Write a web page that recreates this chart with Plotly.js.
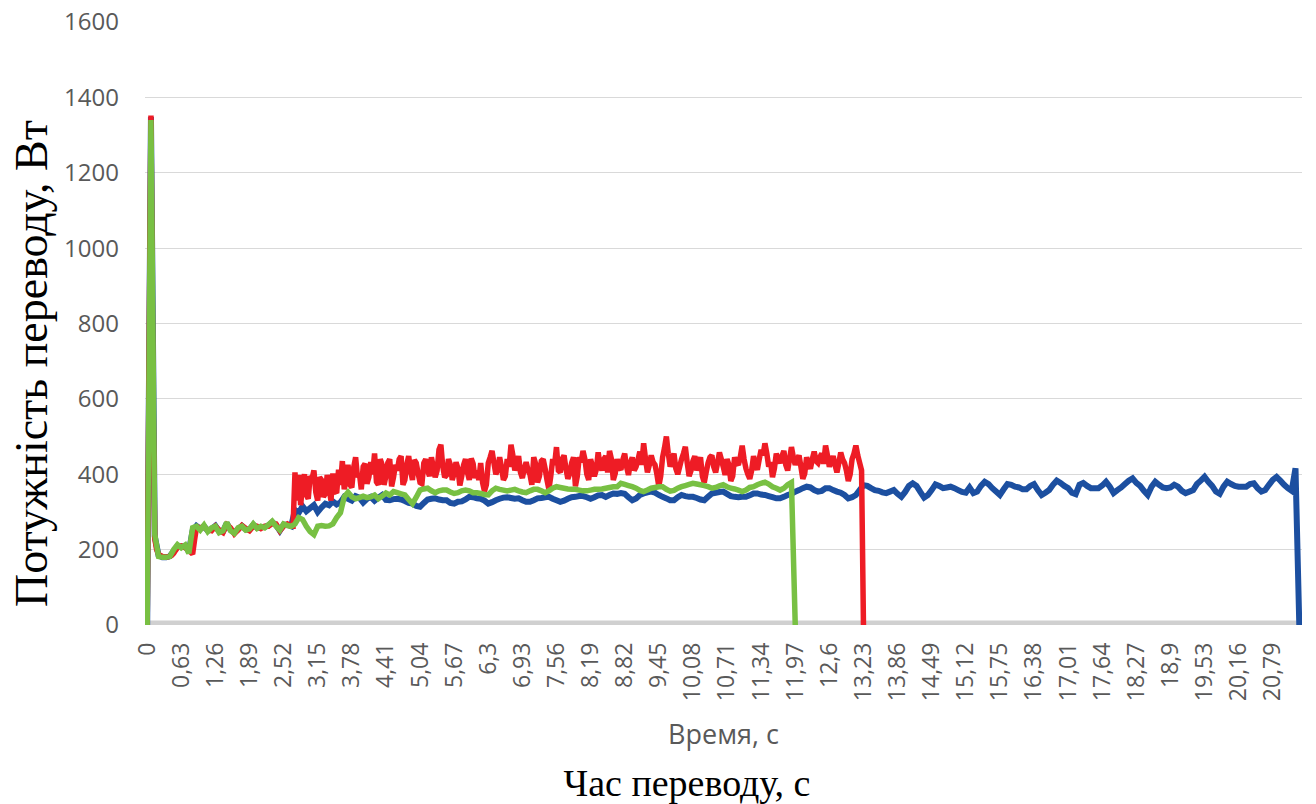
<!DOCTYPE html>
<html>
<head>
<meta charset="utf-8">
<script src="https://cdn.plot.ly/plotly-3.0.1.min.js"></script>
<style>html,body{margin:0;padding:0;background:#fff;}#chart{width:1316px;height:804px;}</style>
</head>
<body>
<div id="chart"></div>
<script>
// sampling steps of the time axis, s
const timeStep = 0.07;
const redTimeStep = 0.035;

// tick labels of the time axis
const tickVals = [0,0.63,1.26,1.89,2.52,3.15,3.78,4.41,5.04,5.67,6.3,6.93,7.56,8.19,8.82,9.45,10.08,10.71,11.34,11.97,12.6,13.23,13.86,14.49,15.12,15.75,16.38,17.01,17.64,18.27,18.9,19.53,20.16,20.79];
const tickText = ["0","0,63","1,26","1,89","2,52","3,15","3,78","4,41","5,04","5,67","6,3","6,93","7,56","8,19","8,82","9,45","10,08","10,71","11,34","11,97","12,6","13,23","13,86","14,49","15,12","15,75","16,38","17,01","17,64","18,27","18,9","19,53","20,16","20,79"];

// power, W (blue series), step timeStep
const bluePower = [
0,1348,235,185,180,180,183,195,210,208,210,195,250,263,255,262,250,255,263,248,248,270,252,245,255,263,254,253,266,258,260,260,264,273,265,250,266,266,262,
305,298,315,302,310,318,300,312,322,318,328,320,325,340,335,330,342,338,325,335,340,330,338,345,332,
331,334,335,333,329,324,322,316,314,324,333,335,336,333,331,331,324,322,327,328,333,340,339,336,335,330,322,326,331,335,338,339,337,335,336,331,327,327,331,336,337,339,340,335,331,327,330,335,339,340,342,342,339,335,339,344,345,340,345,349,348,350,
348,339,331,336,345,349,352,354,351,345,340,336,331,331,339,345,342,340,340,337,333,331,340,349,351,353,354,348,342,340,339,340,340,344,349,349,346,345,342,339,336,336,340,345,348,354,358,363,367,365,358,354,356,363,363,358,354,351,345,336,339,345,358,371,369,
363,358,356,352,350,354,358,348,340,353,369,376,369,353,338,345,358,373,369,363,365,367,363,358,353,351,365,350,354,369,380,374,363,354,345,360,374,372,367,365,360,360,369,374,358,345,351,358,372,383,377,369,363,351,347,372,377,369,363,363,363,370,
380,367,350,358,365,374,383,389,377,369,356,345,367,380,372,365,363,365,372,367,356,350,354,358,374,383,393,380,369,354,348,367,380,374,369,367,367,367,374,376,363,354,358,372,385,393,383,372,363,356,416,0
];

// power, W (red series), step redTimeStep
const redPower = [
0,700,1352,650,230,200,188,184,182,181,180,181,182,185,190,198,205,208,210,208,205,203,200,193,188,225,258,259,258,259,
260,256,252,251,250,256,262,257,252,248,245,256,266,262,258,250,242,247,252,258,264,260,256,253,250,256,262,262,262,259,
256,259,262,262,262,266,270,269,268,259,250,256,262,265,268,265,262,262,
405,330,398,318,372,400,345,335,395,388,410,352,330,392,385,340,348,398,362,330,
402,355,350,412,372,435,360,385,425,372,365,418,445,392,402,360,420,428,375,392,
432,400,455,380,372,440,425,372,395,430,440,368,392,425,410,440,448,372,385,425,
448,410,385,438,430,402,378,375,430,440,410,395,445,420,392,410,465,478,420,392,
398,440,425,385,402,432,415,370,395,425,440,405,385,442,428,390,410,385,430,378,
355,372,430,445,462,430,400,412,445,418,385,395,440,420,478,450,410,425,448,405,
390,415,432,410,400,372,445,428,378,395,435,440,415,385,360,395,440,425,472,410,
405,440,450,415,388,402,430,445,368,395,445,432,462,440,400,385,440,420,395,412,
458,425,410,440,448,405,462,440,385,402,440,418,412,438,455,420,398,430,445,410,
420,438,460,425,482,440,405,425,450,432,425,400,368,395,445,470,500,455,420,440,
455,415,400,420,440,455,473,430,395,410,435,448,410,425,445,395,378,405,430,445,
450,420,405,430,458,440,420,398,440,425,382,395,445,430,425,445,476,440,415,400,
388,410,448,425,412,440,465,450,482,455,420,432,392,415,455,440,430,448,462,425,
410,440,472,445,425,438,450,420,388,402,445,425,415,440,460,435,430,445,455,428,
476,450,420,435,448,425,405,430,458,440,430,410,382,400,440,455,476,450,430,410,
0
];

// power, W (green series), step timeStep
const greenPower = [
0,1340,240,182,180,180,182,200,213,205,212,190,258,262,252,265,248,258,262,245,250,272,250,243,258,262,252,255,268,256,262,258,266,275,262,252,268,264,262,
268,285,280,262,248,240,262,264,262,263,268,285,298,340,352,340,335,338,342,338,340,345,335,342,350,
345,354,351,348,345,333,322,339,358,361,363,356,351,356,358,358,353,349,351,356,358,356,351,351,349,346,345,356,363,360,358,356,358,360,356,353,351,356,360,360,356,351,356,363,367,365,363,361,360,360,358,356,356,358,360,360,361,363,365,367,367,
376,373,370,367,363,357,354,358,363,365,367,367,360,355,357,363,367,370,373,376,374,372,370,367,363,365,369,372,367,363,361,358,354,358,365,367,372,376,379,374,367,363,358,363,372,378,0
];

const timeOf = (arr, step) => arr.map((_, i) => Math.round(i * step * 1000) / 1000);

const traces = [
  {x: timeOf(bluePower, timeStep), y: bluePower, type: 'scatter', mode: 'lines', name: 'blue',
   line: {color: '#1c4fa0', width: 6, simplify: false}},
  {x: timeOf(redPower, redTimeStep), y: redPower, type: 'scatter', mode: 'lines', name: 'red',
   line: {color: '#ee1c25', width: 5.5, simplify: false}},
  {x: timeOf(greenPower, timeStep), y: greenPower, type: 'scatter', mode: 'lines', name: 'green',
   line: {color: '#78c043', width: 5.5, simplify: false}}
];

const layout = {
  width: 1316, height: 804,
  margin: {l: 145, r: 14, t: 22, b: 179},
  paper_bgcolor: '#ffffff', plot_bgcolor: '#ffffff',
  showlegend: false,
  title: {text: 'Час переводу, с', x: 0.522, xanchor: 'center', y: 0.026, yref: 'container', yanchor: 'middle',
          font: {family: 'Liberation Serif, Times New Roman, serif', size: 38, color: '#000000'}},
  xaxis: {
    range: [-0.04, 21.33], tickmode: 'array', tickvals: tickVals, ticktext: tickText,
    tickangle: -90, showgrid: false, zeroline: false, showline: false, ticks: '',
    tickfont: {family: 'Open Sans, sans-serif', size: 23, color: '#595959'},
    ticklabelstandoff: 12,
    title: {text: 'Время, с', standoff: 24, font: {family: 'Open Sans, sans-serif', size: 27, color: '#595959'}}
  },
  yaxis: {
    range: [0, 1600], dtick: 200, showgrid: true, gridcolor: '#d9d9d9', gridwidth: 1,
    zeroline: false, showline: false, ticks: '',
    tickfont: {family: 'Open Sans, sans-serif', size: 24, color: '#595959'},
    ticklabelstandoff: 25
  },
  annotations: [
    {text: 'Потужність переводу, Вт', textangle: -90, showarrow: false,
     xref: 'paper', x: (31 - 145) / 1157, xanchor: 'center',
     yref: 'paper', y: (625 - 364) / 603, yanchor: 'middle',
     font: {family: 'Liberation Serif, Times New Roman, serif', size: 46, color: '#000000'}}
  ],
  shapes: [
    {type: 'line', xref: 'paper', x0: 0, x1: 1, yref: 'y', y0: 0, y1: 0, layer: 'below',
     line: {color: '#d0d0d0', width: 9}}
  ]
};

Plotly.newPlot('chart', traces, layout, {displayModeBar: false, staticPlot: true});
</script>
</body>
</html>
